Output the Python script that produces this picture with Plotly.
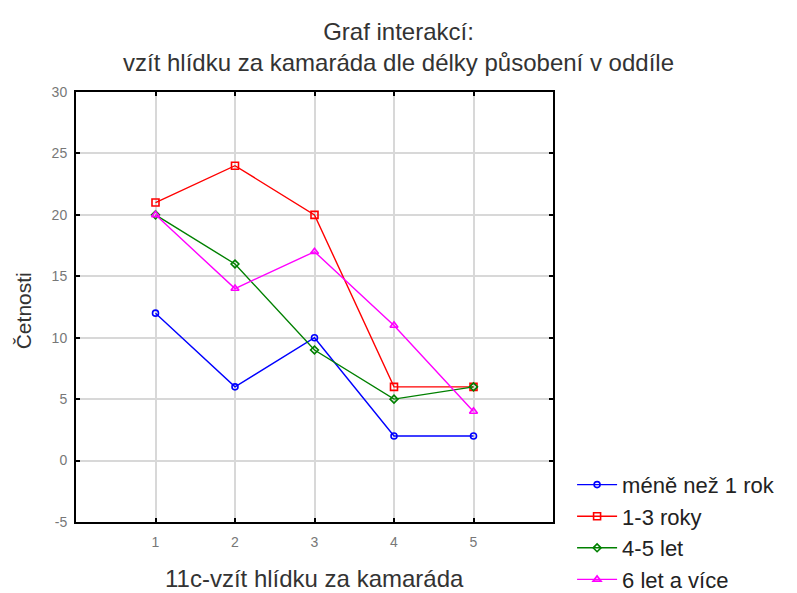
import plotly.graph_objects as go

categories = [1, 2, 3, 4, 5]
series_names = ["méně než 1 rok", "1-3 roky", "4-5 let", "6 let a více"]
s_mene1 = [12, 6, 10, 2, 2]
s_1_3 = [21, 24, 20, 6, 6]
s_4_5 = [20, 16, 9, 5, 6]
s_6plus = [20, 14, 17, 11, 4]
y_ticks = [-5, 0, 5, 10, 15, 20, 25, 30]
y_tick_labels = ["-5", "0", "5", "10", "15", "20", "25", "30"]

colors = ["#0000ff", "#ff0000", "#008000", "#ff00ff"]
symbols = ["circle-open", "square-open", "diamond-open", "triangle-up-open"]
sizes = [6, 7, 6, 7]
values = [s_mene1, s_1_3, s_4_5, s_6plus]

fig = go.Figure()
for name, vals, c, s, sz in zip(series_names, values, colors, symbols, sizes):
    fig.add_trace(go.Scatter(
        x=categories, y=vals, name=name, mode="lines+markers",
        line=dict(color=c, width=1.4),
        marker=dict(symbol=s, size=sz, color=c, line=dict(color=c, width=1.6)),
    ))

font = "Liberation Sans, Arial, sans-serif"
fig.update_layout(
    width=797, height=593,
    paper_bgcolor="white", plot_bgcolor="white",
    margin=dict(l=76, r=244, t=92, b=71, autoexpand=False),
    font=dict(family=font, color="#333333"),
    showlegend=True,
    title=dict(text="Graf interakcí:<br>vzít hlídku za kamaráda dle délky působení v oddíle",
               xref="container", x=0.5, xanchor="center",
               yref="container", y=1 - 40 / 593, yanchor="middle",
               font=dict(size=24, color="#333333")),
    legend=dict(x=1.04, xanchor="left", xref="paper", y=-0.024, yanchor="middle",
                font=dict(size=22, color="#222222"), tracegroupgap=0,
                itemwidth=40, bgcolor="rgba(0,0,0,0)"),
    annotations=[
        dict(text="Četnosti", xref="paper", yref="paper", x=0, xshift=-53, xanchor="center",
             y=0.49, yanchor="middle", textangle=-90, showarrow=False,
             font=dict(size=21, color="#333333")),
        dict(text="11c-vzít hlídku za kamaráda", xref="paper", yref="paper", x=0.5,
             y=0, yshift=-56, yanchor="middle", showarrow=False,
             font=dict(size=24, color="#333333")),
    ],
)
fig.update_xaxes(range=[0, 6], tickvals=categories, ticktext=[str(c) for c in categories],
                 showgrid=True, gridcolor="#d8d8d8", gridwidth=1.5,
                 showline=True, linecolor="black", linewidth=2, mirror="ticks",
                 ticks="inside", ticklen=4, tickcolor="black", tickwidth=1.5,
                 tickfont=dict(size=14, color="#777777"), ticklabelstandoff=6,
                 zeroline=False)
fig.update_yaxes(range=[-5, 30], tickvals=y_ticks, ticktext=y_tick_labels,
                 showgrid=True, gridcolor="#d8d8d8", gridwidth=1.5,
                 showline=True, linecolor="black", linewidth=2, mirror="ticks",
                 ticks="inside", ticklen=4, tickcolor="black", tickwidth=1.5,
                 tickfont=dict(size=14, color="#777777"), ticklabelstandoff=4,
                 zeroline=False)

fig.write_html("out.html", config={"displayModeBar": False},
               post_script="document.body.style.margin='0';")
